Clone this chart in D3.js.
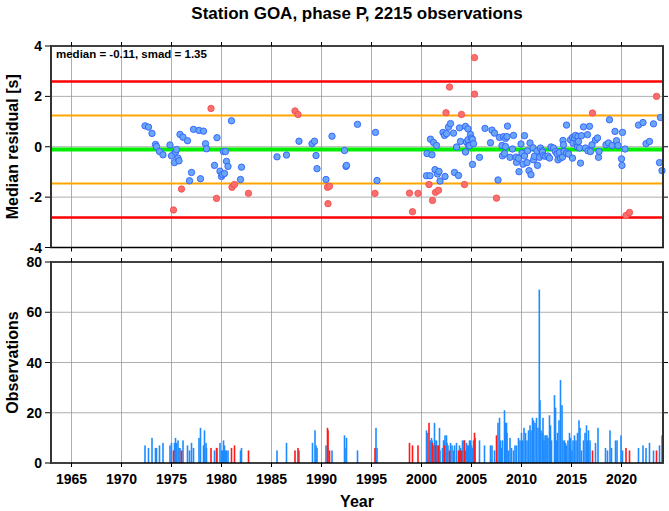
<!DOCTYPE html>
<html><head><meta charset="utf-8">
<script src="https://cdn.jsdelivr.net/npm/d3@7"></script>
<style>body{margin:0;background:#fff}svg{display:block}text{font-family:"Liberation Sans",Arial,Helvetica,sans-serif;font-weight:bold;fill:#000}</style>
</head><body><svg id="c" width="669" height="511"></svg>
<script>
const title = "Station GOA, phase P, 2215 observations";
const statsLabel = "median = -0.11, smad = 1.35";
const median = -0.11, smad = 1.35;
const xTicks = [1965,1970,1975,1980,1985,1990,1995,2000,2005,2010,2015,2020];
const residTicks = [-4,-2,0,2,4];
const obsTicks = [0,20,40,60,80];

const ptYear = [1972.35,1972.7,1973.05,1973.4,1973.5,1973.8,1974.15,1974.85,1975.0,1975.2,1975.3,1975.4,1975.5,1975.65,1975.75,1975.85,1976.0,1976.15,1976.6,1976.8,1977.0,1977.2,1977.75,1977.9,1978.2,1978.4,1978.5,1978.95,1979.3,1979.5,1979.55,1979.85,1980.0,1980.1,1980.3,1980.2,1980.4,1980.5,1980.65,1981.0,1981.05,1981.3,1981.9,1982.0,1982.7,
1985.55,1986.5,1987.35,1987.65,1987.75,1989.05,1989.3,1989.45,1989.55,1990.45,1990.6,1990.8,1990.65,1991.05,1992.3,1992.45,1992.5,1993.6,1995.4,1995.55,1995.35,1998.8,1999.1,1999.65,
2000.5,2000.55,2000.75,2000.85,2000.9,2001.05,2001.1,2001.2,2001.35,2001.4,2001.5,2001.6,2001.7,2001.75,2001.85,2002.15,2002.3,2002.35,2002.45,2002.5,2002.7,2002.8,2002.9,2003.2,2003.3,2003.5,2003.7,2003.8,2003.9,2004.0,2004.3,2004.4,2004.4,2004.5,2004.65,2004.65,2004.7,2004.8,2004.9,2005.0,2005.1,2005.1,2005.2,2005.3,2005.3,2005.8,2006.35,2006.9,2007.05,2007.3,2007.5,2007.65,2007.8,
2008.05,2008.1,2008.2,2008.3,2008.4,2008.4,2008.55,2008.6,2008.85,2009.1,2009.2,2009.45,2009.5,2009.7,2009.75,2009.95,2010.05,2010.15,2010.3,2010.3,2010.55,2010.6,2010.75,2010.85,2010.95,2011.15,2011.2,2011.3,2011.55,2011.6,2011.8,2011.9,2012.05,2012.1,2012.2,2012.4,2012.65,2012.8,2012.95,2013.2,2013.4,2013.55,2013.65,2013.8,2013.9,2014.1,2014.15,2014.2,2014.25,2014.5,2014.5,2014.7,2014.9,2015.1,2015.1,2015.15,2015.3,2015.4,2015.55,2015.6,2015.65,2015.7,2015.8,2015.9,2016.0,2016.2,2016.4,2016.6,2016.65,2016.8,2016.9,2017.05,2017.1,2017.4,2017.6,2017.7,2017.75,2018.45,2018.7,2018.8,2019.05,2019.35,2019.5,2019.65,2020.0,2020.05,2020.1,2020.35,2020.45,2020.8,2021.7,2022.15,2022.45,2022.8,2023.2,2023.5,2023.8,2023.9,2024.05];
const ptResid = [0.83,0.78,0.53,0.09,0.01,-0.19,-0.32,0.07,-0.36,-2.51,-0.63,-0.21,-0.11,-0.45,-0.56,0.49,-1.68,0.38,0.24,-1.35,-1.02,0.69,0.65,-1.27,0.62,0.12,-0.08,1.52,-0.74,-2.05,0.36,-0.97,-1.18,-1.1,-1.06,-0.19,-0.19,-0.58,-0.78,1.03,-1.61,-1.5,-1.3,-0.81,-1.85,
-0.4,-0.33,1.42,1.28,0.22,0.12,0.22,-0.35,-0.87,-1.3,-1.61,-1.57,-2.26,0.42,-0.15,-0.78,-0.74,0.89,0.57,-1.34,-1.85,-1.84,-2.58,-1.85,
-1.15,-0.27,-1.5,-1.15,0.3,-0.32,-2.13,0.17,-0.91,-1.81,0.05,-1.08,-1.73,-0.98,-1.36,0.57,0.45,-1.18,1.35,0.52,0.78,2.37,0.92,0.54,-1.02,-0.01,-1.14,0.75,0.21,1.28,-1.5,0.81,-0.21,0.19,0.71,0.28,0.05,0.04,0.49,0.34,0.29,-0.7,0.12,2.09,3.54,-0.42,0.73,0.16,0.66,0.54,-2.04,-1.32,0.37,
0.05,-0.36,0.4,-0.27,0.33,0.01,0.4,0.82,-0.42,-0.09,0.45,-0.41,-0.62,-0.46,-0.99,0.11,-0.25,-0.69,0.44,-0.37,-0.63,-0.16,-0.95,0.15,-1.11,-0.04,-0.52,-0.38,-0.17,-0.74,-0.42,-0.05,-0.16,-0.21,-0.35,-0.38,-0.37,-0.45,-0.01,-0.05,-0.19,-0.28,-0.52,-0.23,-0.45,-0.41,0.25,0.08,-0.19,0.86,-0.25,-0.29,0.28,0.37,-0.45,0.15,0.35,0.45,0.15,-0.01,0.41,0.21,-0.05,-0.65,0.44,0.79,-0.05,0.48,-0.16,0.81,-0.19,0.08,1.34,0.27,0.35,-0.42,-0.19,0.08,0.15,1.07,0.05,0.61,0.24,0.05,-0.48,-0.74,0.57,-0.09,-2.73,-2.61,0.86,0.96,0.12,0.21,0.91,2.0,-0.63,1.16,-0.95];

const barYear = [1972.35,1972.7,1973.05,1973.4,1973.5,1973.8,1974.15,1974.85,1975.0,1975.3,1975.4,1975.5,1975.65,1975.75,1975.85,1976.15,1976.6,1976.8,1977.0,1977.2,1977.75,1977.9,1978.2,1978.3,1978.45,1978.5,1979.3,1979.55,1979.85,1980.0,1980.1,1980.2,1980.3,1980.4,1980.5,1980.65,1981.9,1982.0,
1985.55,1986.5,1987.75,1989.1,1989.35,1989.45,1989.55,1990.45,1991.05,1992.3,1992.45,1992.5,1993.6,1995.45,1995.55,
2000.5,2000.6,2000.9,2001.0,2001.05,2001.2,2001.3,2001.35,2001.5,2001.6,2001.8,2001.85,2002.1,2002.2,2002.25,2002.35,2002.5,2002.55,2002.65,2002.9,2003.05,2003.2,2003.3,2003.5,2003.8,2003.9,2004.1,2004.25,2004.4,2004.5,2004.6,2004.7,2004.8,2004.9,2005.0,2005.1,2005.2,2005.8,2006.3,2006.9,2007.05,2007.3,2007.65,2007.8,2007.9,2008.0,2008.1,2008.3,2008.4,2008.5,2008.55,2008.7,2008.85,2009.0,2009.2,2009.35,2009.5,2009.7,2009.85,2010.0,2010.1,2010.25,2010.4,2010.55,2010.7,2010.85,2010.95,2011.1,2011.2,2011.35,2011.5,2011.65,2011.78,2011.85,2011.95,2012.1,2012.15,2012.25,2012.35,2012.45,2012.55,2012.65,2012.8,2012.9,2013.0,2013.3,2013.4,2013.5,2013.6,2013.75,2013.9,2014.05,2014.15,2014.3,2014.4,2014.5,2014.65,2014.8,2014.9,2015.05,2015.15,2015.3,2015.45,2015.6,2015.75,2015.85,2016.0,2016.2,2016.35,2016.5,2016.6,2016.7,2016.85,2017.4,2017.65,2018.4,2018.6,2018.85,2019.0,2019.4,2019.55,2019.95,2020.1,2021.7,2022.15,2022.45,2022.8,2023.2,2023.8,2024.05];
const barCount = [7,6,10,6,6,7,8,7,8,8,10,8,9,6,6,9,7,5,8,6,10,14,7,13,8,6,5,6,8,5,5,9,7,5,5,5,5,6,
5,8,5,8,13,7,6,7,5,11,6,10,5,14,6,
13,12,9,10,9,7,16,9,9,7,14,5,6,9,9,11,11,8,7,8,7,5,7,8,7,6,9,9,5,8,7,7,9,9,7,6,9,9,7,7,7,5,16,18,9,6,9,21,16,16,12,5,10,6,5,7,7,10,9,12,9,14,12,9,13,15,13,18,17,16,18,14,69,25,13,12,18,9,11,11,11,10,19,15,9,27,22,9,12,17,33,23,9,9,8,7,9,12,10,5,9,11,9,12,17,14,5,9,12,15,9,13,9,8,14,6,5,13,6,9,9,11,5,6,7,6,8,5,7,11];

const redBarYear = [1975.2,1976.0,1978.95,1979.5,1981.0,1981.3,1982.7,1987.35,1987.65,1990.6,1990.65,1990.8,1995.35,1998.8,1999.1,1999.65,2000.75,2001.1,2001.4,2001.7,2002.3,2002.8,2003.7,2003.85,2004.0,2004.3,2005.3,2005.35,2007.5,2017.1,2020.45,2020.8,2023.5];
const redBarCount = [5,5,6,6,6,7,5,5,6,14,13,5,6,8,7,7,16,8,7,7,7,5,5,5,5,9,12,10,11,5,6,5,5];

const svg = d3.select("#c");
const L = 51, R = 663, T1 = 46, B1 = 247.5, T2 = 262, B2 = 463;
const x = d3.scaleLinear().domain([1962.95, 2024.15]).range([L, R]);
const yR = d3.scaleLinear().domain([-4, 4]).range([B1, T1]);
const yO = d3.scaleLinear().domain([0, 80]).range([B2, T2]);

svg.append("text").attr("x", (L+R)/2).attr("y", 19).attr("text-anchor","middle").style("font-size","17px").text(title);

function panel(y, top, bot, gridVals) {
  const g = svg.append("g");
  g.selectAll(".vg").data(xTicks).join("line").attr("x1", d=>x(d)).attr("x2", d=>x(d)).attr("y1", top).attr("y2", bot).attr("stroke","#999").attr("stroke-width",0.8);
  g.selectAll(".hg").data(gridVals).join("line").attr("x1", L).attr("x2", R).attr("y1", d=>y(d)).attr("y2", d=>y(d)).attr("stroke","#999").attr("stroke-width",0.8);
  return g;
}
function frame(y, top, bot, ticks, rightTicks) {
  const g = svg.append("g");
  g.selectAll(".xt").data(xTicks).join("line").attr("x1", d=>x(d)).attr("x2", d=>x(d)).attr("y1", top-4).attr("y2", top).attr("stroke","#000").attr("stroke-width",1);
  g.selectAll(".xb").data(xTicks).join("line").attr("x1", d=>x(d)).attr("x2", d=>x(d)).attr("y1", bot).attr("y2", bot+4).attr("stroke","#000").attr("stroke-width",1);
  g.selectAll(".yl").data(ticks).join("line").attr("x1", L-6).attr("x2", L).attr("y1", d=>y(d)).attr("y2", d=>y(d)).attr("stroke","#000").attr("stroke-width",1);
  g.selectAll(".yr").data(rightTicks).join("line").attr("x1", R).attr("x2", R+5).attr("y1", d=>y(d)).attr("y2", d=>y(d)).attr("stroke","#000").attr("stroke-width",1);
  g.selectAll(".ylab").data(ticks).join("text").attr("x", L-9).attr("y", d=>y(d)).attr("dy","0.36em").attr("text-anchor","end").style("font-size","14px").text(d=>d);
  g.append("line").attr("x1",L-1).attr("x2",R+1).attr("y1",top).attr("y2",top).attr("stroke","#000").attr("stroke-width",1.6);
  g.append("line").attr("x1",L-1).attr("x2",R+1).attr("y1",bot).attr("y2",bot).attr("stroke","#000").attr("stroke-width",1.6);
  g.append("line").attr("x1",L).attr("x2",L).attr("y1",top).attr("y2",bot).attr("stroke","#333").attr("stroke-width",2);
  g.append("line").attr("x1",R).attr("x2",R).attr("y1",top).attr("y2",bot).attr("stroke","#333").attr("stroke-width",2);
}

// top panel
panel(yR, T1, B1, [-2,0,2]);
const refLines = [
  {v: median + 2*smad, c: "#ff0000", w: 2.6},
  {v: median - 2*smad, c: "#ff0000", w: 2.6},
  {v: median + smad, c: "#ffa500", w: 2.2},
  {v: median - smad, c: "#ffa500", w: 2.2},
  {v: median, c: "#00ee00", w: 4}
];
svg.append("g").selectAll("line").data(refLines).join("line")
  .attr("x1", L).attr("x2", R).attr("y1", d=>yR(d.v)).attr("y2", d=>yR(d.v))
  .attr("stroke", d=>d.c).attr("stroke-width", d=>d.w);

const pts = ptYear.map((t,i)=>({t, r: ptResid[i], out: Math.abs(ptResid[i]-median) > smad}));
svg.append("g").selectAll("circle").data(pts).join("circle")
  .attr("cx", d=>x(d.t)).attr("cy", d=>yR(d.r)).attr("r", 3.2)
  .attr("fill", d=>d.out ? "#fa6e6e" : "#6aa6f6")
  .attr("stroke", d=>d.out ? "#f25050" : "#3060ff").attr("stroke-width", 0.9);

svg.append("text").attr("x", 56).attr("y", 58).style("font-size","11.5px").text(statsLabel);
frame(yR, T1, B1, residTicks, [-2,0,2]);

// bottom panel
panel(yO, T2, B2, [20,40,60]);
svg.append("g").selectAll("rect").data(barYear.map((t,i)=>({t, n: barCount[i]}))).join("rect")
  .attr("x", d=>x(d.t)-0.8).attr("width", 1.6).attr("y", d=>yO(d.n)).attr("height", d=>yO(0)-yO(d.n))
  .attr("fill", "#1e8cff");
svg.append("g").selectAll("rect").data(redBarYear.map((t,i)=>({t, n: redBarCount[i]}))).join("rect")
  .attr("x", d=>x(d.t)-0.8).attr("width", 1.6).attr("y", d=>yO(d.n)).attr("height", d=>yO(0)-yO(d.n))
  .attr("fill", "#ff1a1a");
frame(yO, T2, B2, obsTicks, [20,40,60]);

svg.append("g").selectAll("text").data(xTicks).join("text")
  .attr("x", d=>x(d)).attr("y", 484).attr("text-anchor","middle").style("font-size","14px").text(d=>d);

svg.append("text").attr("transform", `translate(18,${(T1+B1)/2}) rotate(-90)`).attr("text-anchor","middle").style("font-size","16px").text("Median residual [s]");
svg.append("text").attr("transform", `translate(18,${(T2+B2)/2}) rotate(-90)`).attr("text-anchor","middle").style("font-size","16px").text("Observations");
svg.append("text").attr("x", (L+R)/2).attr("y", 507).attr("text-anchor","middle").style("font-size","16px").text("Year");
</script></body></html>
